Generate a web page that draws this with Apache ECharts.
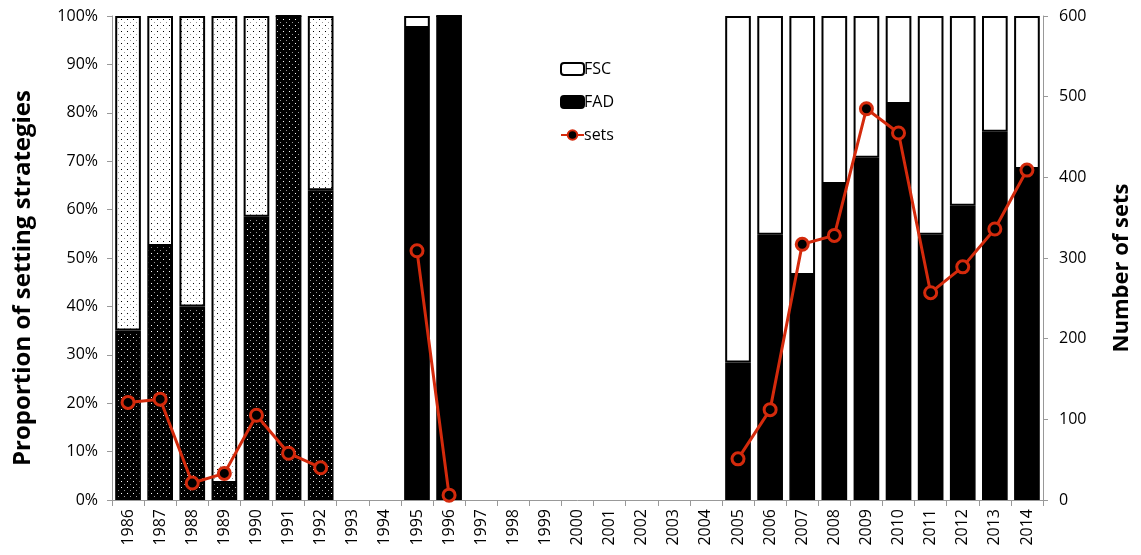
<!DOCTYPE html>
<html>
<head>
<meta charset="utf-8">
<script src="https://cdn.jsdelivr.net/npm/echarts@6/dist/echarts.min.js"></script>
<style>html,body{margin:0;padding:0;background:#fff}#c{width:1141px;height:555px}</style>
</head>
<body>
<div id="c"></div>
<script>
var years = ['1986','1987','1988','1989','1990','1991','1992','1993','1994','1995','1996','1997','1998','1999','2000','2001','2002','2003','2004','2005','2006','2007','2008','2009','2010','2011','2012','2013','2014'];
var fad = [35, 52.5, 40, 3.5, 58.5, 100, 64, null, null, 97.5, 100, null, null, null, null, null, null, null, null, 28.4, 54.8, 46.5, 65.3, 70.7, 81.8, 54.8, 60.8, 76.1, 68.4];
var fsc = [65, 47.5, 60, 96.5, 41.5, 0, 36, null, null, 2.5, 0, null, null, null, null, null, null, null, null, 71.6, 45.2, 53.5, 34.7, 29.3, 18.2, 45.2, 39.2, 23.9, 31.6];
var sets = [121, 125, 21, 33, 105, 58, 40, null, null, 309, 6, null, null, null, null, null, null, null, null, 51, 112, 317, 328, 485, 455, 257, 289, 336, 409];
var dottedYears = ['1986','1987','1988','1989','1990','1991','1992'];

function makePattern(bg, dot1, dot2) {
  var cv = document.createElement('canvas');
  cv.width = 6; cv.height = 6;
  var ctx = cv.getContext('2d');
  ctx.fillStyle = bg; ctx.fillRect(0,0,6,6);
  ctx.fillStyle = dot1; ctx.fillRect(1,1,1,1);
  ctx.fillStyle = dot2; ctx.fillRect(4,4,1,1);
  return {image: cv, repeat: 'repeat'};
}
var patBlack = makePattern('#000', '#ffffff', '#999999');
var patWhite = makePattern('#fff', '#000000', '#999999');

function build(arr, pat) {
  return arr.map(function(v, i) {
    if (dottedYears.indexOf(years[i]) >= 0 && v !== null) {
      return {value: v, itemStyle: {color: pat}};
    }
    return v;
  });
}

var font = 'Open Sans';
var chart = echarts.init(document.getElementById('c'));
chart.setOption({
  animation: false,
  backgroundColor: '#fff',
  textStyle: {fontFamily: font},
  grid: {left: 112, right: 95, top: 16, bottom: 55},
  legend: {
    orient: 'vertical', left: 555, top: 56, itemGap: 17, itemWidth: 23, itemHeight: 12,
    textStyle: {fontFamily: font, fontSize: 16, color: '#000', padding: [0,0,0,-5]},
    data: ['FSC', 'FAD', 'sets']
  },
  xAxis: {
    type: 'category', data: years,
    axisLine: {lineStyle: {color: '#999', width: 1}},
    axisTick: {show: true, length: 6, lineStyle: {color: '#999'}},
    axisLabel: {rotate: 90, color: '#000', fontSize: 16, fontFamily: font, margin: 9}
  },
  yAxis: [{
    type: 'value', min: 0, max: 100, interval: 10,
    name: 'Proportion of setting strategies', nameLocation: 'middle', nameGap: 77,
    nameTextStyle: {fontFamily: font, fontSize: 24, fontWeight: 'bold', color: '#000', padding: [0, 40, 0, 0]},
    axisLine: {show: true, lineStyle: {color: '#999'}},
    axisTick: {show: true, length: 5, lineStyle: {color: '#999'}},
    axisLabel: {formatter: '{value}%', color: '#000', fontSize: 16, fontFamily: font, margin: 14},
    splitLine: {show: false}
  }, {
    type: 'value', min: 0, max: 600, interval: 100,
    name: 'Number of sets', nameLocation: 'middle', nameGap: 68,
    nameTextStyle: {fontFamily: font, fontSize: 22, fontWeight: 'bold', color: '#000', padding: [0, 20, 0, 0]},
    axisLine: {show: true, lineStyle: {color: '#999'}},
    axisTick: {show: true, length: 5, lineStyle: {color: '#999'}},
    axisLabel: {color: '#000', fontSize: 16, fontFamily: font, margin: 16},
    splitLine: {show: false}
  }],
  series: [{
    name: 'FAD', type: 'bar', stack: 'p', barWidth: '80%',
    itemStyle: {color: '#000', borderColor: '#000', borderWidth: 1.5},
    data: build(fad, patBlack)
  }, {
    name: 'FSC', type: 'bar', stack: 'p', barWidth: '80%',
    itemStyle: {color: '#fff', borderColor: '#000', borderWidth: 2},
    data: build(fsc, patWhite)
  }, {
    name: 'sets', type: 'line', yAxisIndex: 1, z: 5,
    data: sets, connectNulls: false,
    symbol: 'circle', symbolSize: 12,
    lineStyle: {color: '#d42a0c', width: 3},
    itemStyle: {color: '#000', borderColor: '#d42a0c', borderWidth: 3}
  }]
});
</script>
</body>
</html>
